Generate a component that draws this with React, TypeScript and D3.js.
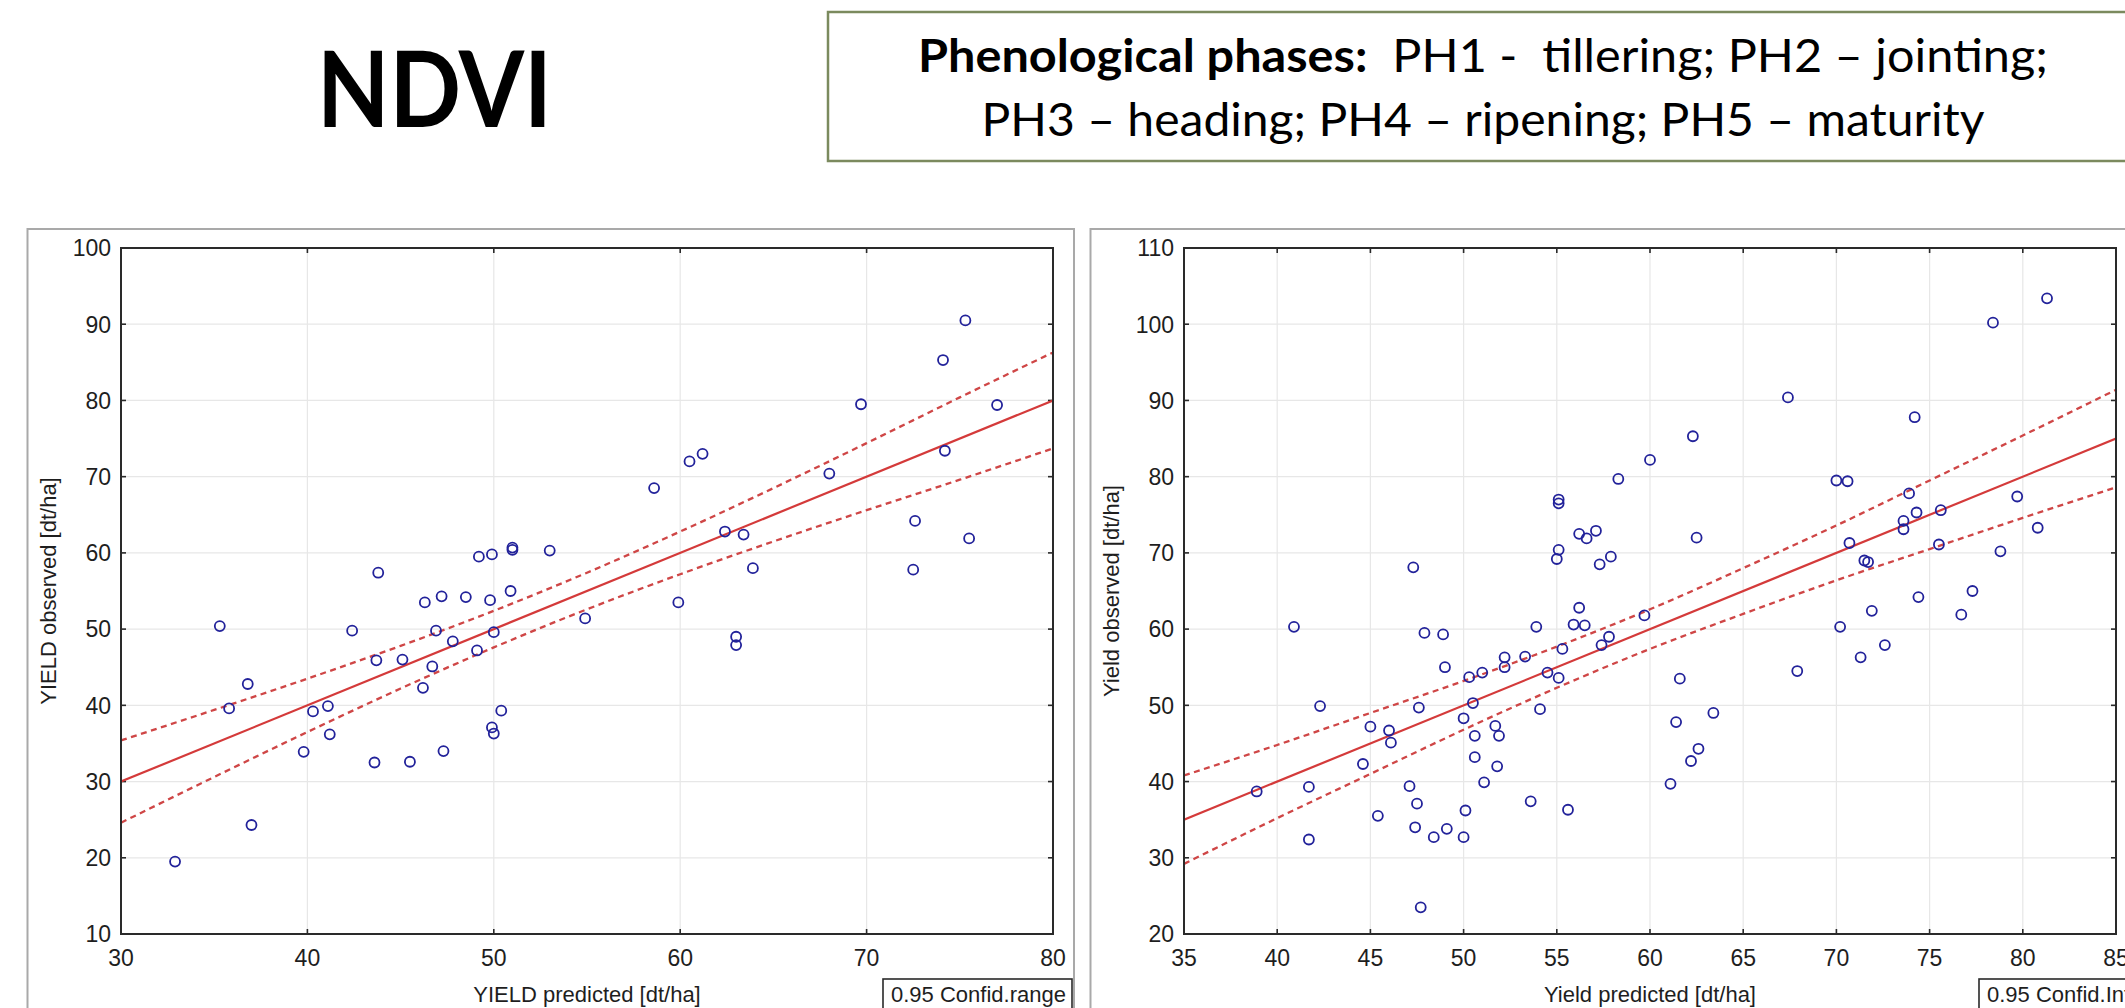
import React from 'react';
import * as d3 from 'd3';

// ---------- DATA ----------
const leftPredicted = [32.9, 35.3, 35.8, 36.8, 37.0, 39.8, 40.3, 41.1, 41.2, 42.4, 43.6, 43.7, 43.8, 45.1, 45.5, 46.2, 46.3, 46.7, 46.9, 47.2, 47.3, 47.8, 48.5, 49.1, 49.2, 49.8, 49.9, 49.9, 50.0, 50.0, 50.4, 50.9, 51.0, 51.0, 53.0, 54.9, 58.6, 59.9, 60.5, 61.2, 62.4, 63.0, 63.0, 63.4, 63.9, 68.0, 69.7, 72.5, 72.6, 74.1, 74.2, 75.3, 75.5, 77.0];
const leftObserved = [19.5, 50.4, 39.6, 42.8, 24.3, 33.9, 39.2, 39.9, 36.2, 49.8, 32.5, 45.9, 57.4, 46.0, 32.6, 42.3, 53.5, 45.1, 49.8, 54.3, 34.0, 48.4, 54.2, 47.2, 59.5, 53.8, 59.8, 37.1, 36.3, 49.6, 39.3, 55.0, 60.7, 60.4, 60.3, 51.4, 68.5, 53.5, 72.0, 73.0, 62.8, 49.0, 47.9, 62.4, 58.0, 70.4, 79.5, 57.8, 64.2, 85.3, 73.4, 90.5, 61.9, 79.4];

const rightPredicted = [38.9, 40.9, 41.7, 41.7, 42.3, 44.6, 45.0, 45.4, 46.0, 46.1, 47.1, 47.3, 47.4, 47.5, 47.6, 47.7, 47.9, 48.4, 48.9, 49.0, 49.1, 50.0, 50.0, 50.1, 50.3, 50.5, 50.6, 50.6, 51.0, 51.1, 51.7, 51.8, 51.9, 52.2, 52.2, 53.3, 53.6, 53.9, 54.1, 54.5, 55.0, 55.1, 55.1, 55.1, 55.1, 55.3, 55.6, 55.9, 56.2, 56.2, 56.5, 56.6, 57.1, 57.3, 57.4, 57.8, 57.9, 58.3, 59.7, 60.0, 61.1, 61.4, 61.6, 62.2, 62.3, 62.5, 62.6, 63.4, 67.4, 67.9, 70.0, 70.2, 70.6, 70.7, 71.3, 71.5, 71.7, 71.9, 72.6, 73.6, 73.6, 73.9, 74.2, 74.3, 74.4, 75.5, 75.6, 76.7, 77.3, 78.4, 78.8, 79.7, 80.8, 81.3];
const rightObserved = [38.7, 60.3, 39.3, 32.4, 49.9, 42.3, 47.2, 35.5, 46.7, 45.1, 39.4, 68.1, 34.0, 37.1, 49.7, 23.5, 59.5, 32.7, 59.3, 55.0, 33.8, 48.3, 32.7, 36.2, 53.7, 50.3, 46.0, 43.2, 54.3, 39.9, 47.3, 42.0, 46.0, 56.3, 55.0, 56.4, 37.4, 60.3, 49.5, 54.3, 69.2, 70.4, 77.0, 76.5, 53.6, 57.4, 36.3, 60.6, 72.5, 62.8, 60.5, 71.9, 72.9, 68.5, 57.9, 59.0, 69.5, 79.7, 61.8, 82.2, 39.7, 47.8, 53.5, 42.7, 85.3, 72.0, 44.3, 49.0, 90.4, 54.5, 79.5, 60.3, 79.4, 71.3, 56.3, 69.0, 68.8, 62.4, 57.9, 74.2, 73.1, 77.8, 87.8, 75.3, 64.2, 71.1, 75.6, 61.9, 65.0, 100.2, 70.2, 77.4, 73.3, 103.4];

// regression lines (endpoints)
const leftFitX = [30, 80];
const leftFitY = [30, 80];
const rightFitX = [35, 85];
const rightFitY = [35, 85];

// 0.95 confidence bands
const leftCiX = [30, 35, 40, 45, 50, 55, 60, 65, 70, 75, 80];
const leftCiUpper = [35.4, 39.4, 43.5, 47.8, 52.4, 57.4, 62.8, 68.5, 74.4, 80.4, 86.3];
const leftCiLower = [24.6, 30.6, 36.5, 42.2, 47.6, 52.6, 57.2, 61.5, 65.6, 69.6, 73.7];
const rightCiX = [35, 40, 45, 50, 55, 60, 65, 70, 75, 80, 85];
const rightCiUpper = [40.8, 44.8, 49.0, 53.2, 57.7, 62.6, 68.0, 73.6, 79.5, 85.4, 91.4];
const rightCiLower = [29.2, 35.2, 41.0, 46.8, 52.3, 57.4, 62.0, 66.4, 70.5, 74.6, 78.6];

// ticks
const leftXTicks = [30, 40, 50, 60, 70, 80];
const leftYTicks = [10, 20, 30, 40, 50, 60, 70, 80, 90, 100];
const rightXTicks = [35, 40, 45, 50, 55, 60, 65, 70, 75, 80, 85];
const rightYTicks = [20, 30, 40, 50, 60, 70, 80, 90, 100, 110];

// texts
const titleText = 'NDVI';
const phaseLabel = 'Phenological phases:';
const phaseLine1 = '  PH1 -  tillering; PH2 \u2013 jointing;';
const phaseLine2 = 'PH3 \u2013 heading; PH4 \u2013 ripening; PH5 \u2013 maturity';
const leftXTitle = 'YIELD predicted [dt/ha]';
const leftYTitle = 'YIELD observed [dt/ha]';
const rightXTitle = 'Yield predicted [dt/ha]';
const rightYTitle = 'Yield observed [dt/ha]';
const leftLegend = '0.95 Confid.range';
const rightLegend = '0.95 Confid.Int.';

// ---------- STYLE ----------
const AXIS_FONT = "'Liberation Sans', Arial, sans-serif";
const POINT_COLOR = '#22229a';
const FIT_COLOR = '#d43a3a';
const CI_COLOR = '#cf4646';

type PanelProps = {
  plotLeft: number;
  xDomain: [number, number];
  yDomain: [number, number];
  xTicks: number[];
  yTicks: number[];
  px: number[];
  py: number[];
  fitX: number[];
  fitY: number[];
  ciX: number[];
  ciUp: number[];
  ciLo: number[];
  xTitle: string;
  yTitle: string;
  legend: string;
  legendX: number;
};

const PLOT_TOP = 248;
const PLOT_W = 932;
const PLOT_H = 686;

function Panel(p: PanelProps) {
  const left = p.plotLeft;
  const right = left + PLOT_W;
  const top = PLOT_TOP;
  const bottom = top + PLOT_H;
  const x = d3.scaleLinear().domain(p.xDomain).range([left, right]);
  const y = d3.scaleLinear().domain(p.yDomain).range([bottom, top]);
  const line = d3
    .line<[number, number]>()
    .x((d) => x(d[0]))
    .y((d) => y(d[1]));
  const curve = d3
    .line<[number, number]>()
    .x((d) => x(d[0]))
    .y((d) => y(d[1]))
    .curve(d3.curveMonotoneX);
  const fitPts = p.fitX.map((v, i) => [v, p.fitY[i]] as [number, number]);
  const upPts = p.ciX.map((v, i) => [v, p.ciUp[i]] as [number, number]);
  const loPts = p.ciX.map((v, i) => [v, p.ciLo[i]] as [number, number]);
  const tickLen = 5;
  const clipId = `clip-${left}`;
  return (
    <g>
      {/* panel border */}
      <rect x={left - 93.5} y={229} width={1046.5} height={900} fill="#fff" stroke="#a9a9a9" strokeWidth={2} />
      <defs>
        <clipPath id={clipId}>
          <rect x={left} y={top} width={PLOT_W} height={PLOT_H} />
        </clipPath>
      </defs>
      {/* grid */}
      {p.xTicks.slice(1, -1).map((t) => (
        <line key={'gx' + t} x1={x(t)} x2={x(t)} y1={top} y2={bottom} stroke="#e7e7e7" strokeWidth={1.2} />
      ))}
      {p.yTicks.slice(1, -1).map((t) => (
        <line key={'gy' + t} x1={left} x2={right} y1={y(t)} y2={y(t)} stroke="#e7e7e7" strokeWidth={1.2} />
      ))}
      {/* inner ticks */}
      {p.xTicks.map((t) => (
        <g key={'tx' + t}>
          <line x1={x(t)} x2={x(t)} y1={bottom} y2={bottom - tickLen} stroke="#2a2a2a" strokeWidth={1.6} />
          <line x1={x(t)} x2={x(t)} y1={top} y2={top + tickLen} stroke="#2a2a2a" strokeWidth={1.6} />
        </g>
      ))}
      {p.yTicks.map((t) => (
        <g key={'ty' + t}>
          <line x1={left} x2={left + tickLen} y1={y(t)} y2={y(t)} stroke="#2a2a2a" strokeWidth={1.6} />
          <line x1={right} x2={right - tickLen} y1={y(t)} y2={y(t)} stroke="#2a2a2a" strokeWidth={1.6} />
        </g>
      ))}
      {/* fit + confidence band */}
      <g clipPath={`url(#${clipId})`}>
        <path d={curve(upPts) || ''} fill="none" stroke={CI_COLOR} strokeWidth={2.3} strokeDasharray="6,4.5" />
        <path d={curve(loPts) || ''} fill="none" stroke={CI_COLOR} strokeWidth={2.3} strokeDasharray="6,4.5" />
        <path d={line(fitPts) || ''} fill="none" stroke={FIT_COLOR} strokeWidth={2.2} />
      </g>
      {/* points */}
      {p.px.map((v, i) => (
        <circle key={'pt' + i} cx={x(v)} cy={y(p.py[i])} r={5} fill="none" stroke={POINT_COLOR} strokeWidth={1.8} />
      ))}
      {/* frame */}
      <rect x={left} y={top} width={PLOT_W} height={PLOT_H} fill="none" stroke="#2a2a2a" strokeWidth={2} />
      {/* tick labels */}
      {p.xTicks.map((t) => (
        <text key={'lx' + t} x={x(t)} y={966} textAnchor="middle" fontSize={23} fontFamily={AXIS_FONT} fill="#1e1e1e">
          {t}
        </text>
      ))}
      {p.yTicks.map((t) => (
        <text key={'ly' + t} x={left - 10} y={y(t)} dy="0.36em" textAnchor="end" fontSize={23} fontFamily={AXIS_FONT} fill="#1e1e1e">
          {t}
        </text>
      ))}
      {/* axis titles */}
      <text x={(left + right) / 2} y={1002} textAnchor="middle" fontSize={22} fontFamily={AXIS_FONT} fill="#1e1e1e">
        {p.xTitle}
      </text>
      <text
        transform={`translate(${left - 65},${(top + bottom) / 2}) rotate(-90)`}
        textAnchor="middle"
        fontSize={22}
        fontFamily={AXIS_FONT}
        fill="#1e1e1e"
      >
        {p.yTitle}
      </text>
      {/* legend */}
      <rect x={p.legendX} y={979} width={189} height={60} fill="#fff" stroke="#2a2a2a" strokeWidth={1.6} />
      <text x={p.legendX + 8} y={1002} fontSize={22} fontFamily={AXIS_FONT} fill="#1e1e1e">
        {p.legend}
      </text>
    </g>
  );
}

export default function App() {
  return (
    <div style={{ position: 'absolute', left: 0, top: 0, width: 2125, height: 1008, overflow: 'hidden', background: '#fff' }}>
      <svg width={2125} height={1008} style={{ display: 'block' }}>
        <rect x={0} y={0} width={2125} height={1008} fill="#fff" />
        {/* Title */}
        <text
          x={317}
          y={127}
          fontFamily="Lato, 'Open Sans', sans-serif"
          fontWeight={700}
          fontSize={105}
          textLength={235}
          lengthAdjust="spacingAndGlyphs"
          fill="#000"
        >
          {titleText}
        </text>
        {/* phases box */}
        <rect x={828} y={12} width={1320} height={149} fill="#fff" stroke="#7b8a5e" strokeWidth={2.5} />
        <text
          x={1483}
          y={72}
          textAnchor="middle"
          fontFamily="Lato, 'Open Sans', sans-serif"
          fontSize={46}
          textLength={1130}
          lengthAdjust="spacingAndGlyphs"
          fill="#000"
          style={{ whiteSpace: 'pre' }}
        >
          <tspan fontWeight={700}>{phaseLabel}</tspan>
          <tspan>{phaseLine1}</tspan>
        </text>
        <text
          x={1483}
          y={136}
          textAnchor="middle"
          fontFamily="Lato, 'Open Sans', sans-serif"
          fontSize={46}
          textLength={1003}
          lengthAdjust="spacingAndGlyphs"
          fill="#000"
        >
          {phaseLine2}
        </text>

        <Panel
          plotLeft={121}
          xDomain={[30, 80]}
          yDomain={[10, 100]}
          xTicks={leftXTicks}
          yTicks={leftYTicks}
          px={leftPredicted}
          py={leftObserved}
          fitX={leftFitX}
          fitY={leftFitY}
          ciX={leftCiX}
          ciUp={leftCiUpper}
          ciLo={leftCiLower}
          xTitle={leftXTitle}
          yTitle={leftYTitle}
          legend={leftLegend}
          legendX={883}
        />
        <Panel
          plotLeft={1184}
          xDomain={[35, 85]}
          yDomain={[20, 110]}
          xTicks={rightXTicks}
          yTicks={rightYTicks}
          px={rightPredicted}
          py={rightObserved}
          fitX={rightFitX}
          fitY={rightFitY}
          ciX={rightCiX}
          ciUp={rightCiUpper}
          ciLo={rightCiLower}
          xTitle={rightXTitle}
          yTitle={rightYTitle}
          legend={rightLegend}
          legendX={1979}
        />
      </svg>
    </div>
  );
}
